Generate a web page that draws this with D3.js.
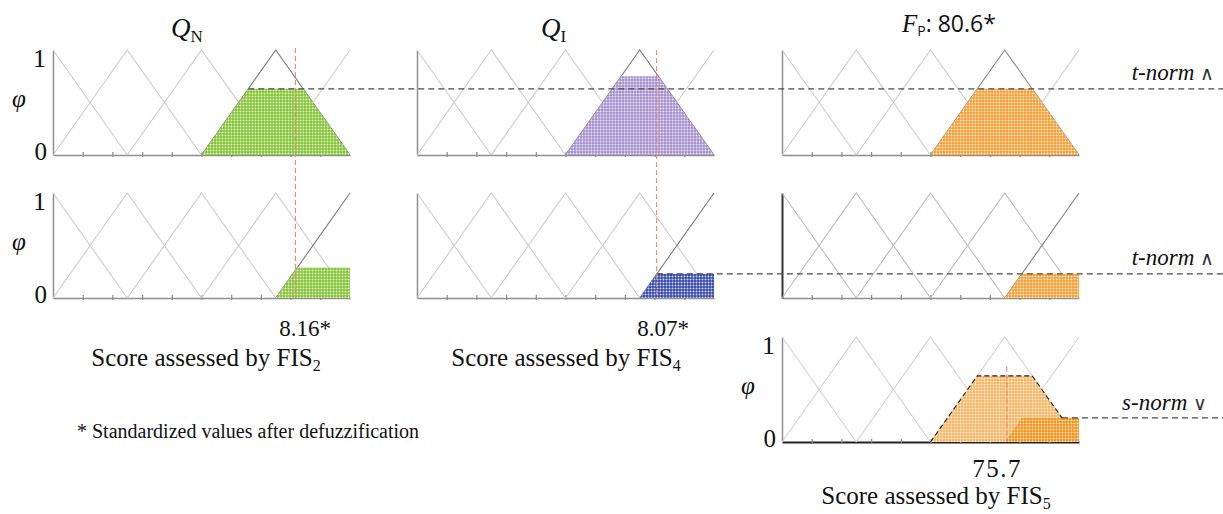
<!DOCTYPE html>
<html>
<head>
<meta charset="utf-8">
<script src="https://cdn.jsdelivr.net/npm/d3@7"></script>
<style>
  body { margin: 0; background: #fff; }
  svg { display: block; }
</style>
</head>
<body>
<svg id="chart" width="1223" height="514"></svg>
<script>
// Peaks of the five triangular membership functions
const peaksQ = [0, 2.5, 5, 7.5, 10];        // Q_N / Q_I universe (0-10)
const peaksF = [0, 25, 50, 75, 100];        // F_P universe (0-100)
const ticksQ = [1, 2, 3, 4, 5, 6, 7, 8, 9];
const ticksF = [10, 20, 30, 40, 50, 60, 70, 80, 90];

// Firing strength of each antecedent, per rule
const rule1Levels = [0.63, 0.75];           // Q_N, Q_I  (term 4)
const rule2Levels = [0.29, 0.23];           // Q_N, Q_I  (term 5)
const ruleTerms = [3, 4];                   // index of the fired term for rules 1 and 2

// Crisp outputs
const crispQN = 8.16;
const crispQI = 8.07;
const crispFIS5 = 75.7;
const scoreFP = 80.6;

// Fill colours
const colorQN = "#88c63c";
const colorQI = "#a994d2";
const colorQIlow = "#3d52b0";
const colorFP = "#f5a23a";
const colorFPagg = "#f7b768";
const colorFPagg2 = "#f2961f";

const svg = d3.select("#chart");
const W = 1223;
const serif = "'Liberation Serif', 'Times New Roman', serif";
const sans = "'Open Sans', 'Liberation Sans', sans-serif";
const symbolFont = "'DejaVu Sans', sans-serif";

// ---------- patterns: coloured base with a white dotted grid ----------
const defs = svg.append("defs");
function addPattern(id, base) {
  const p = defs.append("pattern").attr("id", id)
    .attr("patternUnits", "userSpaceOnUse").attr("width", 3).attr("height", 3);
  p.append("rect").attr("width", 3).attr("height", 3).attr("fill", base);
  p.append("rect").attr("width", 3).attr("height", 1).attr("fill", "#fff").attr("opacity", 0.3);
  p.append("rect").attr("width", 1).attr("height", 3).attr("fill", "#fff").attr("opacity", 0.3);
  p.append("rect").attr("width", 1).attr("height", 1).attr("fill", "#fff").attr("opacity", 0.5);
  return `url(#${id})`;
}
const patQN = addPattern("pQN", colorQN);
const patQI = addPattern("pQI", colorQI);
const patQIlow = addPattern("pQIlow", colorQIlow);
const patFP = addPattern("pFP", colorFP);
const patAgg = addPattern("pAgg", colorFPagg);
const patAgg2 = addPattern("pAgg2", colorFPagg2);

// ---------- panel layout ----------
const colX = [53, 417, 782];
const plotW = 297;
const rowTop = [50, 193, 337];
const plotH = 105;

function makePanel(col, row, peaks) {
  const maxVal = peaks[peaks.length - 1];
  const x = d3.scaleLinear().domain([0, maxVal]).range([colX[col], colX[col] + plotW]);
  const y = d3.scaleLinear().domain([0, 1]).range([rowTop[row] + plotH, rowTop[row]]);
  return { x, y, peaks, maxVal, g: svg.append("g") };
}

function termPoints(peaks, i) {
  const h = peaks[1] - peaks[0], p = peaks[i], maxVal = peaks[peaks.length - 1];
  const pts = [];
  if (p - h >= 0) pts.push([p - h, 0]);
  pts.push([p, 1]);
  if (p + h <= maxVal) pts.push([p + h, 0]);
  return pts;
}

function clippedPoints(peaks, i, level) {
  const h = peaks[1] - peaks[0], p = peaks[i], maxVal = peaks[peaks.length - 1];
  const pts = [];
  if (p - h >= 0) { pts.push([p - h, 0]); pts.push([p - h + level * h, level]); }
  else { pts.push([0, 0]); pts.push([0, level]); }
  if (p + h <= maxVal) { pts.push([p + h - level * h, level]); pts.push([p + h, 0]); }
  else { pts.push([maxVal, level]); pts.push([maxVal, 0]); }
  return pts;
}

function drawAxes(P, ticks, opts = {}) {
  const base = P.y(0);
  const xa = P.g.append("g").attr("transform", `translate(0,${base})`)
    .call(d3.axisBottom(P.x).tickValues(ticks).tickFormat("").tickSizeOuter(0));
  xa.select(".domain").attr("stroke", opts.baseColor || "#8f8f8f").attr("stroke-width", opts.baseWidth || 1.5);
  xa.selectAll(".tick line").attr("y1", -3).attr("y2", 2).attr("stroke", "#8a8a8a").attr("stroke-width", 1.2);
  const ya = P.g.append("g").attr("transform", `translate(${P.x(0)},0)`)
    .call(d3.axisLeft(P.y).tickValues([]).tickSizeOuter(0));
  ya.select(".domain").attr("stroke", opts.yColor || "#8f8f8f").attr("stroke-width", opts.yWidth || 1.5);
}

function drawTerms(P, active = [], lightColor = "#cdcdcd", activeColor = "#7a7a7a") {
  const line = d3.line().x(d => P.x(d[0])).y(d => P.y(d[1]));
  P.peaks.forEach((_, i) => {
    P.g.append("path").attr("d", line(termPoints(P.peaks, i)))
      .attr("fill", "none")
      .attr("stroke", active.includes(i) ? activeColor : lightColor)
      .attr("stroke-width", 1.1);
  });
}

function drawClip(P, term, level, fill) {
  const line = d3.line().x(d => P.x(d[0])).y(d => P.y(d[1]));
  P.g.append("path").attr("d", line(clippedPoints(P.peaks, term, level)) + "Z")
    .attr("fill", fill).attr("stroke", "none");
}

// ---------- rule 1 (top row) ----------
const P11 = makePanel(0, 0, peaksQ);
const P12 = makePanel(1, 0, peaksQ);
const P13 = makePanel(2, 0, peaksF);
// ---------- rule 2 (middle row) ----------
const P21 = makePanel(0, 1, peaksQ);
const P22 = makePanel(1, 1, peaksQ);
const P23 = makePanel(2, 1, peaksF);
// ---------- aggregation ----------
const P33 = makePanel(2, 2, peaksF);

const tnorm1 = Math.min(...rule1Levels);
const tnorm2 = Math.min(...rule2Levels);

[P11, P12, P21, P22].forEach(P => drawAxes(P, ticksQ));
drawAxes(P13, ticksF);
drawAxes(P23, ticksF, { yColor: "#333", yWidth: 2 });
drawAxes(P33, ticksF, { baseColor: "#222", baseWidth: 1.8 });

drawTerms(P11, [ruleTerms[0]]);
drawTerms(P12, [ruleTerms[0]]);
drawTerms(P13, [ruleTerms[0]], "#cdcdcd", "#8a8a8a");
drawTerms(P21, [ruleTerms[1]]);
drawTerms(P22, [ruleTerms[1]]);
drawTerms(P23, [ruleTerms[1]], "#bdbdbd", "#808080");
drawTerms(P33, [], "#d2d2d2");

drawClip(P11, ruleTerms[0], rule1Levels[0], patQN);
drawClip(P12, ruleTerms[0], rule1Levels[1], patQI);
drawClip(P13, ruleTerms[0], tnorm1, patFP);
drawClip(P21, ruleTerms[1], rule2Levels[0], patQN);
drawClip(P22, ruleTerms[1], rule2Levels[1], patQIlow);
drawClip(P23, ruleTerms[1], tnorm2, patFP);
drawClip(P33, ruleTerms[0], tnorm1, patAgg);
drawClip(P33, ruleTerms[1], tnorm2, patAgg2);

// ---------- dashed guide lines ----------
const dashDark = "#4a4a4a";
function hDash(x0, y, x1) {
  svg.append("line").attr("x1", x0).attr("x2", x1).attr("y1", y).attr("y2", y)
    .attr("stroke", dashDark).attr("stroke-width", 1.1).attr("stroke-dasharray", "6,4");
}
// rule 1 t-norm
{
  const pts = clippedPoints(peaksQ, ruleTerms[0], tnorm1);
  hDash(P11.x(pts[1][0]), P11.y(tnorm1), W);
}
// rule 2 t-norm
{
  const pts = clippedPoints(peaksQ, ruleTerms[1], tnorm2);
  hDash(P22.x(pts[1][0]), P22.y(tnorm2), W);
}
// aggregated outline (s-norm)
{
  const a = clippedPoints(peaksF, ruleTerms[0], tnorm1);
  const h = peaksF[1] - peaksF[0];
  const xCut = peaksF[ruleTerms[0]] + h * (1 - tnorm2);
  const outline = [a[0], a[1], a[2], [xCut, tnorm2]];
  const line = d3.line().x(d => P33.x(d[0])).y(d => P33.y(d[1]));
  svg.append("path").attr("d", line(outline)).attr("fill", "none")
    .attr("stroke", "#222").attr("stroke-width", 1.1).attr("stroke-dasharray", "5,3");
  hDash(P33.x(xCut), P33.y(tnorm2), W);
}

// ---------- crisp value markers ----------
const redDash = "#e8836a";
function vDash(x, y0, y1) {
  svg.append("line").attr("x1", x).attr("x2", x).attr("y1", y0).attr("y2", y1)
    .attr("stroke", redDash).attr("stroke-width", 1.1).attr("stroke-dasharray", "5,3");
}
vDash(P11.x(crispQN), P11.y(1) - 2, P21.y(0));
vDash(P12.x(crispQI), P12.y(1), P22.y(0));
vDash(P33.x(crispFIS5), P33.y(0.72), P33.y(0));

// ---------- text ----------
function addText(x, y, size, family, opts = {}) {
  return svg.append("text").attr("x", x).attr("y", y)
    .attr("font-size", size).attr("font-family", family)
    .attr("text-anchor", opts.anchor || "start")
    .attr("font-style", opts.italic ? "italic" : "normal")
    .attr("fill", "#111");
}

// membership-degree labels beside the left axes
[P11, P21, P33].forEach(P => {
  const xl = P.x(0);
  addText(xl - 7, P.y(1) + 17, 26, serif, { anchor: "end" }).text("1");
  addText(xl - 6, P.y(0) + 5, 25, serif, { anchor: "end" }).text("0");
  addText(xl - 41, P.y(0.5) + 4, 25, serif, { italic: true }).text("φ");
});

// panel titles
{
  const t = addText(171, 37, 27, serif, { italic: true });
  t.append("tspan").text("Q");
  t.append("tspan").attr("font-style", "normal").attr("font-size", 17).attr("dy", 5).text("N");
}
{
  const t = addText(541, 37, 27, serif, { italic: true });
  t.append("tspan").text("Q");
  t.append("tspan").attr("font-style", "normal").attr("font-size", 17).attr("dy", 5).text("I");
}
{
  const t = addText(902, 32, 25, serif, { italic: true });
  t.append("tspan").text("F");
  t.append("tspan").attr("font-style", "normal").attr("font-family", sans).attr("font-size", 14).attr("dy", 4).text("P");
  t.append("tspan").attr("font-style", "normal").attr("font-family", sans).attr("font-size", 23).attr("dy", -4)
    .text(": " + scoreFP.toFixed(1) + "*");
}

// t-norm / s-norm labels
function normLabel(xEnd, y, word, symbol) {
  const t = addText(xEnd, y, 23, serif, { anchor: "end", italic: true });
  t.append("tspan").text(word + " ");
  t.append("tspan").attr("font-style", "normal").attr("font-family", symbolFont)
    .attr("font-size", 19).attr("font-weight", 300).attr("fill", "#333").text(symbol);
}
normLabel(1214, P11.y(tnorm1) - 9, "t-norm", "∧");
normLabel(1214, P23.y(tnorm2) - 9, "t-norm", "∧");
normLabel(1207, P33.y(tnorm2) - 8, "s-norm", "∨");

// crisp values under the panels
addText(305, 336, 23, serif, { anchor: "middle" }).text(crispQN.toFixed(2) + "*");
addText(663, 336, 23, serif, { anchor: "middle" }).text(crispQI.toFixed(2) + "*");
addText(997, 477, 25, serif, { anchor: "middle" }).attr("letter-spacing", 1.5).text(crispFIS5.toFixed(1));

// x-axis captions
function caption(cx, y, sub) {
  const t = addText(cx, y, 25, serif, { anchor: "middle" });
  t.append("tspan").text("Score assessed by FIS");
  t.append("tspan").attr("font-size", 16).attr("dy", 5).text(sub);
}
caption(206, 366, "2");
caption(566, 366, "4");
caption(936, 504, "5");

addText(77, 438, 20, serif).text("* Standardized values after defuzzification");
</script>
</body>
</html>
